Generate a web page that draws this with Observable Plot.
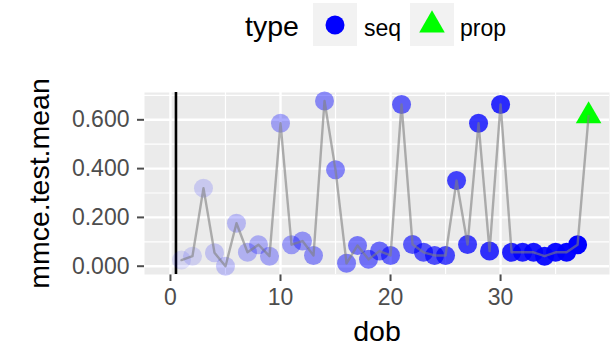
<!DOCTYPE html>
<html><head><meta charset="utf-8">
<script src="https://cdn.jsdelivr.net/npm/d3@7"></script>
<script src="https://cdn.jsdelivr.net/npm/@observablehq/plot@0.6"></script>
<style>
body{margin:0;background:#fff;}
#chart{position:relative;width:613px;height:349px;}
#legend{position:absolute;left:0;top:0;}
[aria-label="x-axis tick"], [aria-label="y-axis tick"]{stroke-width:2px;}
g[aria-label="x-axis"] .tick line, g[aria-label="y-axis"] .tick line{stroke-width:2px;}
</style></head><body><div id="chart"></div>
<script>
const seqDob = [1,2,3,4,5,6,7,8,9,10,11,12,13,14,15,16,17,18,19,20,21,22,23,24,25,26,27,28,29,30,31,32,33,34,35,36,37];
const seqMmce = [0.025,0.041,0.320,0.055,0.000,0.176,0.057,0.088,0.041,0.586,0.088,0.103,0.044,0.677,0.395,0.012,0.085,0.028,0.062,0.044,0.663,0.089,0.057,0.044,0.044,0.351,0.089,0.586,0.062,0.663,0.057,0.057,0.057,0.041,0.057,0.057,0.088];
const propDob = [38];
const propMmce = [0.616];
const types = ["seq","prop"];
const typeColors = ["#0000ff","#00ff00"];
const xTicks = [0,10,20,30];
const yTicks = [0,0.2,0.4,0.6];
const xMinor = [5,15,25,35];
const yMinor = [0.1,0.3,0.5,0.7];
const vlineDob = [0.5];

const seq = seqDob.map((d,i)=>({dob:d, mmce:seqMmce[i], type:"seq"}));
const prop = propDob.map((d,i)=>({dob:d, mmce:propMmce[i], type:"prop"}));
const all = seq.concat(prop).sort((a,b)=>a.dob-b.dob);
const FONT = "'Liberation Sans', Arial, Helvetica, sans-serif";

const plot = Plot.plot({
  width:613, height:349, marginTop:92, marginBottom:75, marginLeft:144, marginRight:4,
  style:{fontFamily:FONT, fontSize:"23px", color:"#4d4d4d", background:"#fff"},
  x:{domain:[-2.36,39.9], ticks:xTicks, tickFormat:d=>String(d), tickSize:7, tickPadding:7, label:null},
  y:{domain:[-0.034,0.712], ticks:yTicks, tickFormat:d3.format(".3f"), tickSize:7, tickPadding:8, label:null},
  opacity:{domain:[1,37], range:[0.1,1]},
  marks:[
    Plot.frame({fill:"#ebebeb", stroke:null}),
    Plot.ruleY(yMinor,{stroke:"#fff", strokeWidth:1.2}),
    Plot.ruleX(xMinor,{stroke:"#fff", strokeWidth:1.2}),
    Plot.ruleY(yTicks,{stroke:"#fff", strokeWidth:2.4}),
    Plot.ruleX(xTicks,{stroke:"#fff", strokeWidth:2.4}),
    Plot.ruleX(vlineDob,{stroke:"#000", strokeWidth:2.6}),
    Plot.dot(seq,{x:"dob", y:"mmce", r:9.5, fill:typeColors[0], fillOpacity:"dob", stroke:null, symbol:"circle"}),
    Plot.dot(prop,{x:"dob", y:"mmce", r:9.5, fill:typeColors[1], stroke:null, symbol:"triangle"}),
    Plot.line(all,{x:"dob", y:"mmce", stroke:"#7f7f7f", strokeOpacity:0.6, strokeWidth:2.4}),
    Plot.text(["mmce.test.mean"], {text:d=>d, frameAnchor:"left", textAnchor:"middle", lineAnchor:"middle", rotate:-90, dx:-105, fontSize:28.5, fill:"#000"}),
    Plot.text(["dob"], {text:d=>d, frameAnchor:"bottom", textAnchor:"middle", lineAnchor:"middle", dy:57, fontSize:28.5, fill:"#000"})
  ]
});
document.getElementById("chart").appendChild(plot);

const leg = d3.select("#chart").append("svg").attr("id","legend")
  .attr("width",613).attr("height",50).style("font-family",FONT);
leg.append("text").attr("x",245).attr("y",36).attr("font-size",28.5).attr("fill","#000").text("type");
const keyX = [313,410], labelX = [364,460];
const syms = [d3.symbolCircle, d3.symbolTriangle];
types.forEach((t,i)=>{
  leg.append("rect").attr("x",keyX[i]).attr("y",3).attr("width",44).attr("height",43).attr("fill","#f2f2f2");
  leg.append("path").attr("transform",`translate(${keyX[i]+22},25)`)
    .attr("d", d3.symbol(syms[i], Math.PI*9.5*9.5)()).attr("fill",typeColors[i]);
  leg.append("text").attr("x",labelX[i]).attr("y",36).attr("font-size",23).attr("fill","#000").text(t);
});
</script></body></html>
